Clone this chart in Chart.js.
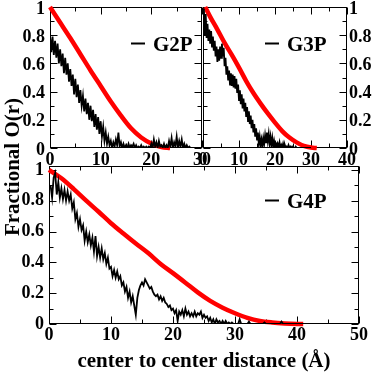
<!DOCTYPE html>
<html>
<head>
<meta charset="utf-8">
<script src="https://cdn.jsdelivr.net/npm/chart.js@4.4.1/dist/chart.umd.min.js"></script>
<style>
  html, body { margin: 0; padding: 0; background: #fff; }
  #wrap { position: relative; width: 374px; height: 374px; overflow: hidden; }
  canvas { position: absolute; }
  #ytitle {
    position: absolute; left: -68px; top: 155px; width: 160px; height: 24px;
    line-height: 24px; text-align: center; white-space: nowrap;
    transform: rotate(-90deg);
    font: bold 21px 'Liberation Serif', 'Times New Roman', serif; color: #000;
  }
</style>
</head>
<body>
<div id="wrap">
  <canvas id="g2p" width="215" height="170" style="left:0;top:0"></canvas>
  <canvas id="g3p" width="184" height="170" style="left:190px;top:0"></canvas>
  <canvas id="g4p" width="374" height="219" style="left:0;top:155px"></canvas>
  <div id="ytitle">Fractional O(r)</div>
</div>
<script>
// ---- data ----
// simulation curves are sampled every 0.25 Å
const SIM_STEP = 0.25;

const g2pSimStart = 0;
const g2pSim = [
  0.80, 0.68, 0.79, 0.66, 0.76, 0.64, 0.74, 0.60,
  0.70, 0.58, 0.67, 0.53, 0.64, 0.52, 0.60, 0.47,
  0.56, 0.44, 0.52, 0.38, 0.49, 0.36, 0.45, 0.32,
  0.41, 0.30, 0.37, 0.26, 0.35, 0.24, 0.32, 0.20,
  0.30, 0.19, 0.27, 0.15, 0.24, 0.13, 0.22, 0.10,
  0.19, 0.08, 0.15, 0.05, 0.11, 0.03, 0.08, 0.02,
  0.05, 0.00, 0.04, 0.01, 0.06, 0.02, 0.11, 0.01,
  0.04, 0.00, 0.03, 0.00, 0.02, 0.00, 0.03, 0.00,
  0.02, 0.01, 0.03, 0.00, 0.02, 0.00, 0.01, 0.00,
  0.02, 0.00, 0.01, 0.00, 0.01, 0.00, 0.01, 0.00,
  0.03, 0.00, 0.06, 0.01, 0.04, 0.00, 0.05, 0.01,
  0.02, 0.00, 0.03, 0.00, 0.02, 0.00, 0.05, 0.01,
  0.07, 0.00, 0.04, 0.01, 0.08, 0.00, 0.05, 0.01,
  0.06, 0.00, 0.03, 0.00, 0.02, 0.00, 0.01, 0.00,
  0.00
];

const g3pSimStart = 0.25;
const g3pSim = [
  0.99, 0.80, 0.95, 0.78, 0.88, 0.76, 0.84, 0.74,
  0.83, 0.72, 0.79, 0.69, 0.76, 0.65, 0.72, 0.61,
  0.70, 0.62, 0.72, 0.64, 0.74, 0.65, 0.71, 0.58,
  0.64, 0.52, 0.58, 0.48, 0.55, 0.45, 0.53, 0.44,
  0.52, 0.43, 0.51, 0.42, 0.49, 0.39, 0.45, 0.34,
  0.41, 0.31, 0.38, 0.28, 0.35, 0.26, 0.32, 0.22,
  0.29, 0.19, 0.26, 0.17, 0.23, 0.14, 0.20, 0.11,
  0.17, 0.08, 0.14, 0.06, 0.11, 0.03, 0.08, 0.02,
  0.06, 0.01, 0.07, 0.03, 0.09, 0.04, 0.11, 0.05,
  0.10, 0.03, 0.08, 0.02, 0.07, 0.01, 0.05, 0.01,
  0.04, 0.00, 0.03, 0.01, 0.04, 0.00, 0.02, 0.00,
  0.03, 0.00, 0.02, 0.00, 0.01, 0.00, 0.02, 0.00,
  0.01, 0.00, 0.01, 0.00, 0.00, 0.00, 0.01, 0.00,
  0.00, 0.00, 0.00, 0.00, 0.00, 0.00, 0.00, 0.00,
  0.00, 0.00, 0.00, 0.00, 0.00, 0.00, 0.00, 0.00
];

const g4pSimStart = 0.25;
const g4pSim = [
  0.90, 0.82, 0.95, 0.98, 0.84, 0.92, 0.82, 0.88,
  0.81, 0.87, 0.80, 0.86, 0.80, 0.84, 0.75, 0.79,
  0.68, 0.72, 0.63, 0.68, 0.61, 0.64, 0.54, 0.60,
  0.53, 0.58, 0.51, 0.56, 0.47, 0.57, 0.44, 0.50,
  0.43, 0.49, 0.42, 0.46, 0.39, 0.43, 0.36, 0.37,
  0.31, 0.35, 0.30, 0.34, 0.29, 0.31, 0.25, 0.27,
  0.21, 0.24, 0.17, 0.21, 0.14, 0.18, 0.12, 0.06,
  0.17, 0.22, 0.25, 0.27, 0.25, 0.29, 0.27, 0.25,
  0.23, 0.24, 0.21, 0.19, 0.18, 0.19, 0.16, 0.18,
  0.15, 0.17, 0.14, 0.13, 0.11, 0.12, 0.09, 0.10,
  0.07, 0.09, 0.02, 0.08, 0.06, 0.09, 0.05, 0.10,
  0.06, 0.08, 0.05, 0.07, 0.05, 0.08, 0.05, 0.07,
  0.06, 0.08, 0.04, 0.06, 0.04, 0.05, 0.02, 0.04,
  0.01, 0.03, 0.00, 0.03, 0.01, 0.02, 0.00, 0.02,
  0.00, 0.02, 0.00, 0.01, 0.00, 0.01, 0.00, 0.00,
  0.00, 0.00, 0.03, 0.00, 0.00, 0.00, 0.00, 0.00,
  0.015, 0.00, 0.00, 0.00, 0.00, 0.00, 0.00, 0.00,
  0.00, 0.00, 0.01, 0.00, 0.00, 0.00, 0.00, 0.00,
  0.00, 0.00, 0.00, 0.00, 0.00, 0.015, 0.00, 0.00,
  0.00, 0.00, 0.00, 0.00, 0.00, 0.00, 0.00, 0.00,
  0.00, 0.00, 0.00, 0.00, 0.00, 0.00, 0.00, 0.00,
  0.00, 0.00, 0.00, 0.00, 0.00, 0.00, 0.00, 0.00,
  0.00, 0.00, 0.00, 0.00, 0.00, 0.00, 0.00, 0.00,
  0.00, 0.00, 0.00, 0.00, 0.00, 0.00, 0.00, 0.00,
  0.00, 0.00, 0.00, 0.00, 0.00, 0.00, 0.00, 0.00
];

// red model curves
const g2pModelX = [0, 2, 4, 6, 8, 10, 12, 14, 16, 18, 20, 22, 23.7];
const g2pModelY = [1.0, 0.89, 0.78, 0.665, 0.55, 0.44, 0.33, 0.23, 0.14, 0.075, 0.032, 0.007, 0];

const g3pModelX = [0.6, 2, 4, 6, 8, 10, 12, 14, 16, 18, 20, 22, 24, 26, 28, 30, 31.6];
const g3pModelY = [1.0, 0.93, 0.84, 0.745, 0.66, 0.57, 0.475, 0.39, 0.315, 0.245, 0.18, 0.12, 0.074, 0.04, 0.015, 0.003, 0];

const g4pModelX = [0, 2, 4, 6, 8, 10, 12, 14, 16, 18, 20, 22, 24, 26, 28, 30, 32, 34, 36, 38, 40, 41];
const g4pModelY = [1.0, 0.945, 0.875, 0.80, 0.728, 0.654, 0.587, 0.522, 0.46, 0.39, 0.33, 0.268, 0.205, 0.15, 0.106, 0.07, 0.04, 0.02, 0.01, 0.004, 0.0005, 0];

const panelLabels = ['G2P', 'G3P', 'G4P'];
const xTitle = 'center to center distance (\u00c5)';

// ---- helpers ----
const FONT = "'Liberation Serif', 'Times New Roman', serif";

function simPoints(start, ys) {
  return ys.map((v, i) => ({ x: start + i * SIM_STEP, y: v }));
}
function modelPoints(xs, ys) {
  return xs.map((x, i) => ({ x: x, y: ys[i] }));
}

// "1" instead of "1.0", "0.2" etc.
function shortNum(v) {
  return String(+(+v).toFixed(2));
}

// frame + inward ticks on all four sides
const frameTicks = {
  id: 'frameTicks',
  beforeDatasetsDraw(chart) {
    const { ctx, chartArea: a, scales: { x, y } } = chart;
    const L = Math.round(a.left) + 0.5, R = Math.round(a.right) - 0.5;
    const T = Math.round(a.top) + 0.5, B = Math.round(a.bottom) - 0.5;
    ctx.save();
    ctx.strokeStyle = '#000';
    ctx.lineWidth = 1;
    ctx.strokeRect(L, T, R - L, B - T);
    ctx.beginPath();
    for (let v = 0; v <= x.max + 1e-6; v += 5) {
      const px = Math.round(x.getPixelForValue(v)) + 0.5;
      const len = (v % 10 === 0) ? 7 : 4;
      ctx.moveTo(px, B); ctx.lineTo(px, B - len);
      ctx.moveTo(px, T); ctx.lineTo(px, T + len);
    }
    for (let k = 0; k <= 10; k++) {
      const py = Math.round(y.getPixelForValue(k / 10)) + 0.5;
      const len = (k % 2 === 0) ? 7 : 4;
      ctx.moveTo(L, py); ctx.lineTo(L + len, py);
      ctx.moveTo(R, py); ctx.lineTo(R - len, py);
    }
    ctx.stroke();
    ctx.restore();
  }
};

// "— G2P" style tag inside the plot
const tagLegend = {
  id: 'tagLegend',
  afterDatasetsDraw(chart, args, o) {
    const { ctx, chartArea: a } = chart;
    const ds = chart.data.datasets[0];
    const x = a.left + o.dx, y = Math.round(a.top + o.dy) + 0.5;
    ctx.save();
    ctx.strokeStyle = '#000';
    ctx.lineWidth = 2;
    ctx.beginPath(); ctx.moveTo(x, y); ctx.lineTo(x + 14, y); ctx.stroke();
    ctx.fillStyle = '#000';
    ctx.font = 'bold 21px ' + FONT;
    ctx.textBaseline = 'alphabetic';
    ctx.fillText(ds.label, x + 22, y + 7);
    ctx.restore();
  }
};

function makePanel(id, p) {
  const tickFont = { family: FONT, size: 18, weight: 'bold' };
  return new Chart(document.getElementById(id), {
    type: 'line',
    data: {
      datasets: [
        { label: p.label, data: p.sim, borderColor: '#000', borderWidth: 1.8,
          pointRadius: 0, tension: 0 },
        { label: 'model', data: p.model, borderColor: '#ff0000', borderWidth: 4.5,
          pointRadius: 0, cubicInterpolationMode: 'monotone', clip: 4 }
      ]
    },
    options: {
      responsive: false,
      animation: false,
      events: [],
      layout: { padding: p.pad },
      plugins: {
        legend: { display: false },
        tooltip: { enabled: false },
        tagLegend: p.tag
      },
      scales: {
        x: {
          type: 'linear', min: 0, max: p.xMax,
          ticks: { stepSize: 10, autoSkip: false, maxRotation: 0, padding: p.xPad,
                   color: '#000', font: tickFont, callback: shortNum },
          grid: { display: false, drawTicks: false },
          border: { display: false },
          title: p.xTitle ? {
            display: true, text: p.xTitle, color: '#000',
            font: { family: FONT, size: 21, weight: 'bold' },
            padding: { top: 0, bottom: 0 }
          } : { display: false },
          afterFit: s => { s.height = p.xH; s.paddingLeft = 0; s.paddingRight = 0; }
        },
        y: {
          type: 'linear', position: p.yPos, min: 0, max: p.yMax,
          ticks: { stepSize: 0.2, includeBounds: false, padding: p.yPad,
                   labelOffset: p.yOff, color: '#000', font: tickFont, callback: shortNum },
          grid: { display: false, drawTicks: false },
          border: { display: false },
          afterFit: s => { s.width = p.yW; s.paddingTop = 0; s.paddingBottom = 0; }
        }
      }
    },
    plugins: [frameTicks, tagLegend]
  });
}

makePanel('g2p', {
  label: panelLabels[0],
  sim: simPoints(g2pSimStart, g2pSim),
  model: modelPoints(g2pModelX, g2pModelY),
  xMax: 30, yMax: 1, yPos: 'left',
  pad: { left: 0, top: 7, right: 13, bottom: 0 },
  xH: 22, yW: 50, xPad: 2, yPad: 5, yOff: 2,
  tag: { dx: 81, dy: 36 }
});

makePanel('g3p', {
  label: panelLabels[1],
  sim: simPoints(g3pSimStart, g3pSim),
  model: modelPoints(g3pModelX, g3pModelY),
  xMax: 40, yMax: 1, yPos: 'right',
  pad: { left: 13, top: 7, right: 0, bottom: 0 },
  xH: 22, yW: 27, xPad: 2, yPad: 2, yOff: 2,
  tag: { dx: 62, dy: 36 }
});

makePanel('g4p', {
  label: panelLabels[2],
  sim: simPoints(g4pSimStart, g4pSim),
  model: modelPoints(g4pModelX, g4pModelY),
  xMax: 50, yMax: 1.025, yPos: 'left',
  pad: { left: 0, top: 11, right: 15, bottom: 0 },
  xH: 50, yW: 49, xPad: 1, yPad: 5, yOff: 0,
  xTitle: xTitle,
  tag: { dx: 216, dy: 34 }
});
</script>
</body>
</html>
